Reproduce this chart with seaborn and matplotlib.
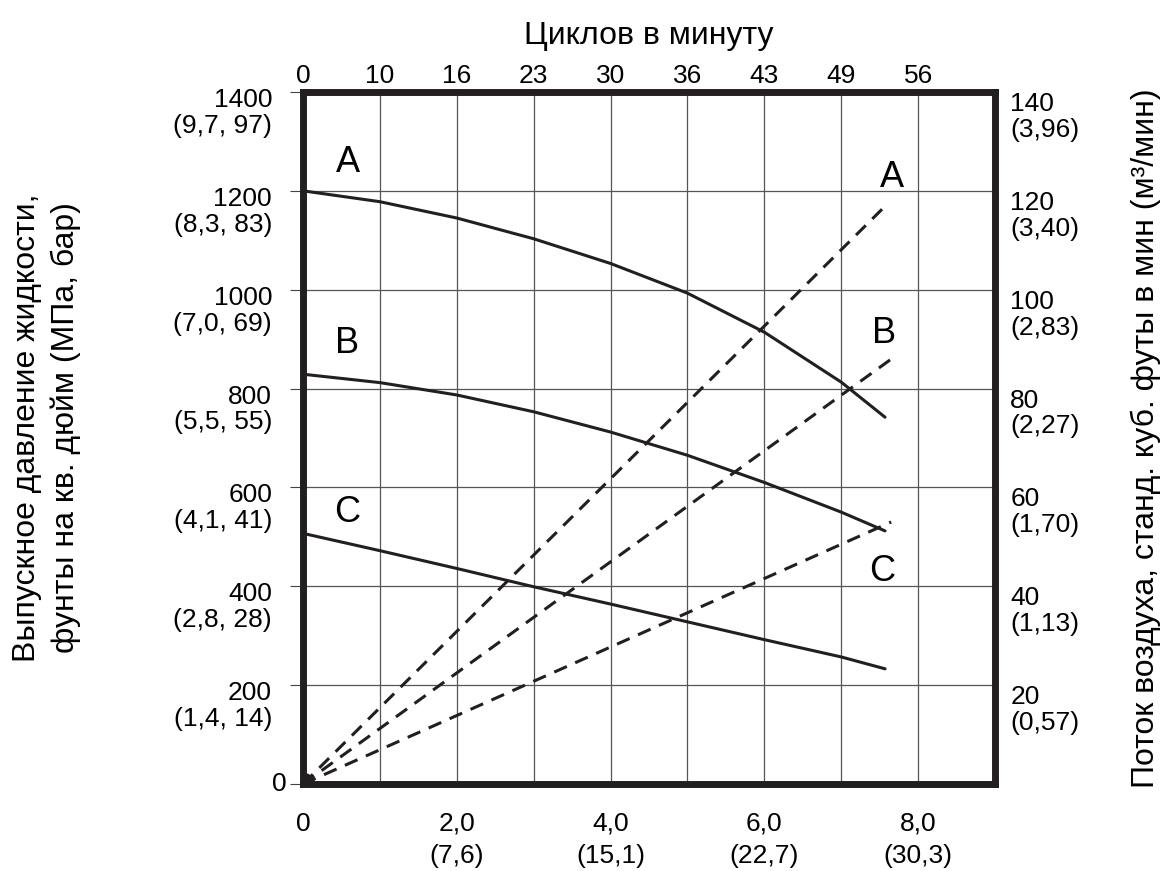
import matplotlib
matplotlib.use("Agg")
import matplotlib.pyplot as plt
from matplotlib.transforms import offset_copy
import pandas as pd
import seaborn as sns

# bottom axis: fluid flow, gal/min (l/min)
flow_ticks = [0, 1, 2, 3, 4, 5, 6, 7, 8, 9]
flow_labels = ["0", "", "2,0\n(7,6)", "", "4,0\n(15,1)", "", "6,0\n(22,7)", "", "8,0\n(30,3)", ""]
# top axis: cycles per minute
cycle_ticks = [0, 1, 2, 3, 4, 5, 6, 7, 8]
cycle_labels = ["0", "10", "16", "23", "30", "36", "43", "49", "56"]
# left axis: outlet fluid pressure, psi (MPa, bar)
pressure_ticks = [0, 200, 400, 600, 800, 1000, 1200, 1400]
pressure_labels = ["0", "200\n(1,4, 14)", "400\n(2,8, 28)", "600\n(4,1, 41)", "800\n(5,5, 55)",
                   "1000\n(7,0, 69)", "1200\n(8,3, 83)", "1400\n(9,7, 97)"]
# right axis: air consumption, scfm (m3/min)
air_ticks = [20, 40, 60, 80, 100, 120, 140]
air_labels = ["20\n(0,57)", "40\n(1,13)", "60\n(1,70)", "80\n(2,27)", "100\n(2,83)",
              "120\n(3,40)", "140\n(3,96)"]

# fluid pressure curves (solid)
flow_pts = [0, 1, 2, 3, 4, 5, 6, 7, 7.57]
press_a = [1200, 1178, 1145, 1103, 1053, 993, 914, 813, 742]
press_b = [829, 812, 787, 753, 712, 665, 610, 550, 512]
press_c = [507, 472, 436, 399, 364, 328, 292, 257, 233]

# air consumption lines (dashed)
air_flow_a = [0, 7.61]
air_a = [0, 117.5]
air_flow_b = [0, 7.68]
air_b = [0, 86.3]
air_flow_c = [0, 7.65]
air_c = [0, 53]

sns.set_style("white")
plt.rcParams["font.family"] = ["Liberation Sans", "DejaVu Sans"]
plt.rcParams["text.color"] = "black"
plt.rcParams["axes.labelcolor"] = "black"
plt.rcParams["xtick.labelcolor"] = "black"
plt.rcParams["ytick.labelcolor"] = "black"
ink = "#231f20"

fig = plt.figure(figsize=(11.71, 8.71), dpi=100)
ax = fig.add_axes([0.2588, 0.0999, 0.5909, 0.7945])

for press in [press_a, press_b, press_c]:
    sns.lineplot(x=flow_pts, y=press, ax=ax, color=ink, linewidth=2.2, sort=False, estimator=None)

ax.set_xlim(0, 9)
ax.set_ylim(0, 1400)
ax.grid(True, color="#555555", linewidth=0.9)
for s in ax.spines.values():
    s.set_linewidth(5)
    s.set_color(ink)
    s.set_visible(True)

ax.set_xticks(flow_ticks, flow_labels, fontsize=19)
for lbl in ax.get_xticklabels():
    lbl.set_linespacing(1.45)
ax.tick_params(axis="x", direction="out", length=10, width=0.8, color="#444444", pad=10)

# left tick labels drawn as text so the two-line block hangs below the tick
ax.set_yticks(pressure_ticks, [""] * len(pressure_ticks))
ax.tick_params(axis="y", direction="out", length=9.5, width=0.8, color="#444444")
for val, lab in zip(pressure_ticks, pressure_labels):
    if val == 0:
        tr = offset_copy(ax.get_yaxis_transform(), fig=fig, x=-16, y=0, units="dots")
        ax.text(0, val, lab, transform=tr, ha="right", va="center", fontsize=19)
    else:
        tr = offset_copy(ax.get_yaxis_transform(), fig=fig, x=-31, y=4, units="dots")
        ax.text(0, val, lab, transform=tr, ha="right", va="top", fontsize=19,
                multialignment="right", linespacing=1.1)

ax.set_ylabel("Выпускное давление жидкости,\nфунты на кв. дюйм (МПа, бар)",
              fontsize=23, linespacing=1.35, va="center")
ax.yaxis.set_label_coords(-0.371, 0.515)

# curve letters
ax.text(0.58, 1258, "A", fontsize=26, ha="center", va="center")
ax.text(0.57, 892, "B", fontsize=26, ha="center", va="center")
ax.text(0.58, 550, "C", fontsize=26, ha="center", va="center")
ax.text(7.66, 1227, "A", fontsize=26, ha="center", va="center")
ax.text(7.56, 912, "B", fontsize=26, ha="center", va="center")
ax.text(7.53, 429, "C", fontsize=26, ha="center", va="center")

# top axis (cycles per minute)
secax = ax.secondary_xaxis("top")
secax.set_xticks(cycle_ticks, cycle_labels, fontsize=19)
secax.tick_params(length=0, pad=3)
secax.spines["top"].set_visible(False)
secax.set_xlabel("Циклов в минуту", fontsize=23, labelpad=14)

# right axis (air consumption)
ax2 = ax.twinx()
for air_x, air_y in [(air_flow_a, air_a), (air_flow_b, air_b), (air_flow_c, air_c)]:
    sns.lineplot(x=air_x, y=air_y, ax=ax2, color=ink, linewidth=2.2, dashes=False,
                 estimator=None).lines[-1].set_dashes((4.5, 3))
ax2.set_ylim(0, 140)
ax2.set_xlim(0, 9)
for s in ax2.spines.values():
    s.set_visible(False)
ax2.grid(False)
ax2.set_yticks(air_ticks, air_labels, fontsize=19)
ax2.tick_params(axis="y", length=0, pad=11)
for lbl in ax2.get_yticklabels():
    lbl.set_va("top")
    lbl.set_linespacing(1.1)
ax2.set_ylabel("Поток воздуха, станд. куб. футы в мин (м³/мин)", fontsize=23,
               rotation=90, va="center")
ax2.yaxis.set_label_coords(1.218, 0.5)

# dot in the origin corner
ax.scatter([0], [0], s=250, color=ink, zorder=5)

fig.savefig("out.png", dpi=100)
